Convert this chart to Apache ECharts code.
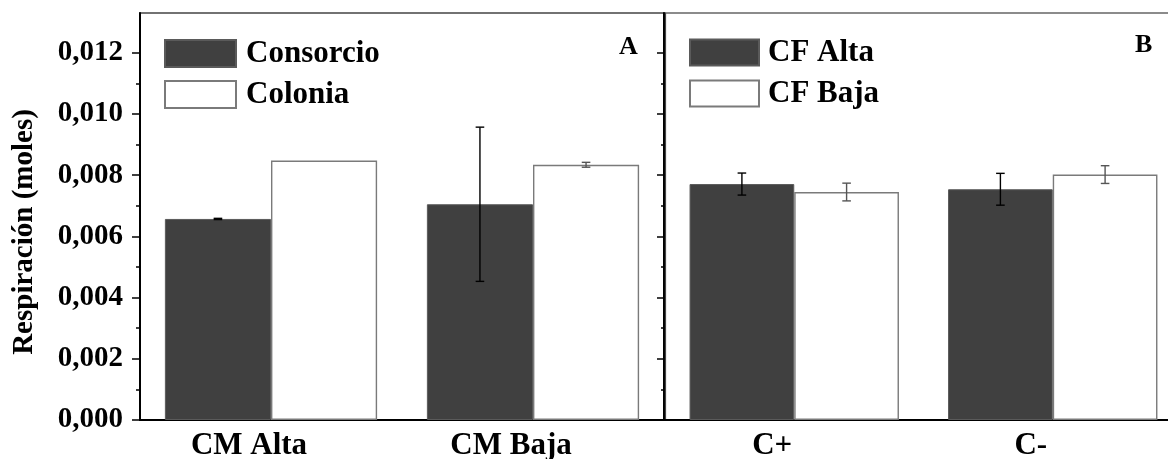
<!DOCTYPE html>
<html>
<head>
<meta charset="utf-8">
<script src="https://cdn.jsdelivr.net/npm/echarts@6/dist/echarts.min.js"></script>
<style>
html,body{margin:0;padding:0;background:#fff;}
#c{width:1168px;height:459px;}
</style>
</head>
<body>
<div id="c"></div>
<script>
// ---- data ----
const categoriesA = ['CM Alta', 'CM Baja'];
const consorcio = [0.00657, 0.00705];
const consorcioErr = [0.00002, 0.00252];
const colonia = [0.00848, 0.00834];
const coloniaErr = [0, 0.00008];

const categoriesB = ['C+', 'C-'];
const cfAlta = [0.00771, 0.00754];
const cfAltaErr = [0.00036, 0.00052];
const cfBaja = [0.00745, 0.00802];
const cfBajaErr = [0.00029, 0.00029];

const majorTicks = [0, 0.002, 0.004, 0.006, 0.008, 0.010, 0.012];
const minorTicks = [0.001, 0.003, 0.005, 0.007, 0.009, 0.011];
const yMax = 0.0133;
const yTitle = 'Respiración (moles)';

// ---- styles ----
const FONT = '"Liberation Serif", "Times New Roman", serif';
const DARK = '#404040';
const GAP = 0.19;
const GRID_TOP = 13, GRID_BOTTOM = 39, H = 459;
const GRID_H = H - GRID_TOP - GRID_BOTTOM;

function errItems(vals, errs) {
  return vals.map((v, i) => [i, v, errs[i]]);
}
function errRender(sign, color) {
  return function (params, api) {
    const x = api.value(0), v = api.value(1), e = api.value(2);
    if (!e) return null;
    const band = api.size([1, 0])[0];
    const bw = band * (1 - GAP) / 2;
    const cx = api.coord([x, v])[0] + sign * bw / 2;
    const yT = api.coord([x, v + e])[1];
    const yB = api.coord([x, v - e])[1];
    const hw = 4.3;
    const st = { stroke: color, lineWidth: 1.4 };
    return {
      type: 'group',
      children: [
        { type: 'line', shape: { x1: cx, y1: yT, x2: cx, y2: yB }, style: st },
        { type: 'line', shape: { x1: cx - hw, y1: yT, x2: cx + hw, y2: yT }, style: st },
        { type: 'line', shape: { x1: cx - hw, y1: yB, x2: cx + hw, y2: yB }, style: st }
      ]
    };
  };
}

function yAxisSet(gridIndex, opts) {
  return Object.assign({
    gridIndex: gridIndex, type: 'value', min: 0, max: yMax,
    splitLine: { show: false }
  }, opts);
}

function bottomAxis(gridIndex, cats) {
  return {
    gridIndex: gridIndex, type: 'category', data: cats, position: 'bottom',
    axisLine: { lineStyle: { color: '#000', width: 2 } },
    axisTick: { alignWithLabel: true, length: 7, lineStyle: { color: '#000', width: 1.5 } },
    axisLabel: {
      fontFamily: FONT, fontWeight: 'bold', fontSize: 31, color: '#000',
      margin: 10, padding: [0, 44, 0, 0]
    }
  };
}
function boundaryTickAxis(gridIndex, cats) {
  // placed on the top side, shifted down onto the bottom line
  return {
    gridIndex: gridIndex, type: 'category', data: cats, position: 'top',
    offset: -GRID_H,
    axisLine: { show: false },
    axisTick: { inside: true, length: 4, lineStyle: { color: '#000', width: 1.5 } },
    axisLabel: { show: false }
  };
}

const labelFmt = v => v.toFixed(3).replace('.', ',');

const legendText = { fontFamily: FONT, fontWeight: 'bold', fontSize: 31, color: '#000', padding: [0, 0, 0, 5] };

const option = {
  animation: false,
  backgroundColor: '#fff',
  grid: [
    { left: 140, top: GRID_TOP, width: 524, bottom: GRID_BOTTOM, outerBoundsMode: 'none', containLabel: false, show: true, borderColor: '#444', borderWidth: 1.5, backgroundColor: 'transparent' },
    { left: 665, top: GRID_TOP, width: 517, bottom: GRID_BOTTOM, outerBoundsMode: 'none', containLabel: false, show: true, borderColor: '#666', borderWidth: 1.5, backgroundColor: 'transparent' }
  ],
  legend: [
    {
      data: ['Consorcio', 'Colonia'], orient: 'vertical', left: 164, top: 38, padding: 0,
      itemWidth: 71, itemHeight: 27, itemGap: 10, icon: 'rect',
      textStyle: legendText, selectedMode: false
    },
    {
      data: ['CF Alta', 'CF Baja'], orient: 'vertical', left: 689, top: 37, padding: 0,
      itemWidth: 69, itemHeight: 26, itemGap: 10, icon: 'rect',
      textStyle: Object.assign({}, legendText, { padding: [0, 0, 0, 4] }), selectedMode: false
    }
  ],
  xAxis: [
    bottomAxis(0, categoriesA),
    boundaryTickAxis(0, categoriesA),
    bottomAxis(1, categoriesB),
    boundaryTickAxis(1, categoriesB)
  ],
  yAxis: [
    yAxisSet(0, {
      position: 'left',
      axisLine: { show: true, lineStyle: { color: '#000', width: 2 } },
      axisTick: { show: true, length: 8, customValues: majorTicks, lineStyle: { color: '#000', width: 1.5 } },
      axisLabel: { customValues: majorTicks, formatter: labelFmt, fontFamily: FONT, fontWeight: 'bold', fontSize: 29, color: '#000', margin: 17 }
    }),
    yAxisSet(0, {
      position: 'left',
      axisLine: { show: false },
      axisTick: { show: true, length: 4, customValues: minorTicks, lineStyle: { color: '#000', width: 1.5 } },
      axisLabel: { show: false }
    }),
    yAxisSet(0, {
      position: 'right',
      axisLine: { show: true, lineStyle: { color: '#000', width: 2 } },
      axisTick: { show: true, inside: true, length: 7, customValues: majorTicks, lineStyle: { color: '#000', width: 1.5 } },
      axisLabel: { show: false }
    }),
    yAxisSet(0, {
      position: 'right',
      axisLine: { show: false },
      axisTick: { show: true, inside: true, length: 3, customValues: minorTicks, lineStyle: { color: '#000', width: 1.5 } },
      axisLabel: { show: false }
    }),
    yAxisSet(1, {
      position: 'left',
      axisLine: { show: true, lineStyle: { color: '#444', width: 1.2 } },
      axisTick: { show: false },
      axisLabel: { show: false }
    })
  ],
  graphic: [
    {
      type: 'text', x: 25, y: 232, rotation: Math.PI / 2,
      style: { text: yTitle, font: 'bold 29px ' + FONT, fill: '#000', align: 'center', verticalAlign: 'middle' }
    },
    { type: 'text', left: 619, top: 34, style: { text: 'A', font: 'bold 26px ' + FONT, fill: '#000' } },
    { type: 'text', left: 1135, top: 32, style: { text: 'B', font: 'bold 26px ' + FONT, fill: '#000' } }
  ],
  series: [
    {
      name: 'Consorcio', type: 'bar', xAxisIndex: 0, yAxisIndex: 0, data: consorcio,
      barGap: '0%', barCategoryGap: '19%',
      itemStyle: { color: DARK, borderColor: '#5a5a5a', borderWidth: 1 }
    },
    {
      name: 'Colonia', type: 'bar', xAxisIndex: 0, yAxisIndex: 0, data: colonia,
      barGap: '0%', barCategoryGap: '19%',
      itemStyle: { color: '#fff', borderColor: '#7a7a7a', borderWidth: 1.4 }
    },
    {
      type: 'custom', xAxisIndex: 0, yAxisIndex: 0, z: 5,
      renderItem: errRender(-1, '#000'), data: errItems(consorcio, consorcioErr)
    },
    {
      type: 'custom', xAxisIndex: 0, yAxisIndex: 0, z: 5,
      renderItem: errRender(1, '#555'), data: errItems(colonia, coloniaErr)
    },
    {
      name: 'CF Alta', type: 'bar', xAxisIndex: 2, yAxisIndex: 4, data: cfAlta,
      barGap: '0%', barCategoryGap: '19%',
      itemStyle: { color: DARK, borderColor: '#5a5a5a', borderWidth: 1 }
    },
    {
      name: 'CF Baja', type: 'bar', xAxisIndex: 2, yAxisIndex: 4, data: cfBaja,
      barGap: '0%', barCategoryGap: '19%',
      itemStyle: { color: '#fff', borderColor: '#7a7a7a', borderWidth: 1.4 }
    },
    {
      type: 'custom', xAxisIndex: 2, yAxisIndex: 4, z: 5,
      renderItem: errRender(-1, '#000'), data: errItems(cfAlta, cfAltaErr)
    },
    {
      type: 'custom', xAxisIndex: 2, yAxisIndex: 4, z: 5,
      renderItem: errRender(1, '#555'), data: errItems(cfBaja, cfBajaErr)
    }
  ]
};

const chart = echarts.init(document.getElementById('c'), null, { renderer: 'canvas' });
chart.setOption(option);
</script>
</body>
</html>
